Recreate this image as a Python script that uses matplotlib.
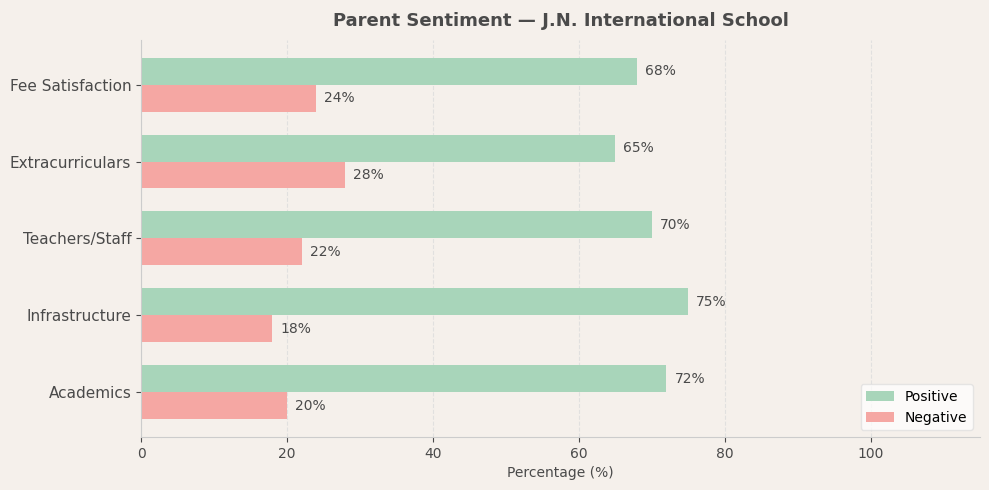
import numpy as np
import matplotlib
matplotlib.use("Agg")
import matplotlib.pyplot as plt

# dati
categories = ["Academics", "Infrastructure", "Teachers/Staff", "Extracurriculars", "Fee Satisfaction"]
positive = [72, 75, 70, 65, 68]
negative = [20, 18, 22, 28, 24]

bg = "#f5f0eb"
txt = "#4a4a4a"

fig = plt.figure(figsize=(9.89, 4.9), dpi=100, facecolor=bg)
ax = fig.add_axes([0.1426, 0.108, 0.8484, 0.811])
ax.set_facecolor(bg)

y = np.arange(len(categories))
h = 0.35
bp = ax.barh(y + h / 2, positive, height=h, color="#a8d5ba", label="Positive")
bn = ax.barh(y - h / 2, negative, height=h, color="#f5a7a3", label="Negative")

# etichette percentuali
for bars in (bp, bn):
    for b in bars:
        w = b.get_width()
        ax.text(w + 1.1, b.get_y() + b.get_height() / 2, f"{w:.0f}%",
                va="center", ha="left", fontsize=10, color=txt)

ax.set_yticks(y)
ax.set_yticklabels(categories, fontsize=11, color=txt)
ax.set_xlim(0, 115)
ax.set_xticks([0, 20, 40, 60, 80, 100])
ax.tick_params(axis="x", labelsize=10, colors=txt)
ax.tick_params(axis="y", colors=txt)
ax.set_xlabel("Percentage (%)", fontsize=10, color=txt)
ax.set_title("Parent Sentiment — J.N. International School", fontsize=13,
             fontweight="bold", color=txt, pad=10)

ax.grid(axis="x", linestyle="--", color="#dddddd", alpha=0.8)
ax.set_axisbelow(True)
for s in ("top", "right"):
    ax.spines[s].set_visible(False)
for s in ("left", "bottom"):
    ax.spines[s].set_color("#cccccc")

ax.legend(loc="lower right", fontsize=10, facecolor="white", framealpha=0.7,
          edgecolor="#dddddd")

plt.savefig("out.png", dpi=100, facecolor=bg)
